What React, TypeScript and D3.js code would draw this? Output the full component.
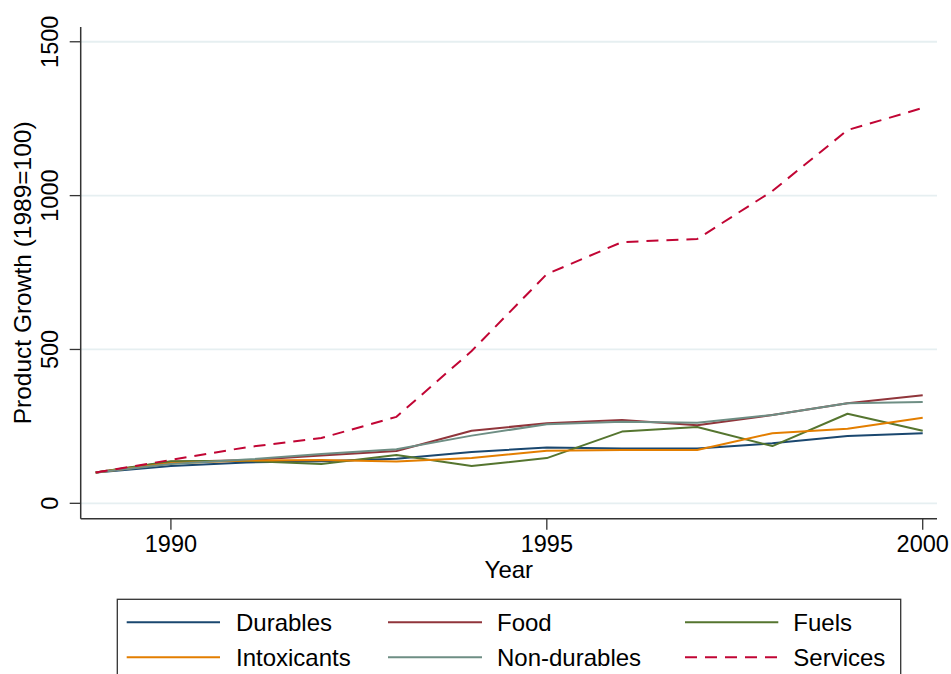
import React from "react";
import * as d3 from "d3";

const years = [1989, 1990, 1991, 1992, 1993, 1994, 1995, 1996, 1997, 1998, 1999, 2000];
const durables = [100, 121, 133, 137, 145, 167, 181, 178, 178, 195, 219, 228];
const food = [100, 135, 140, 155, 170, 236, 260, 271, 254, 287, 325, 351];
const fuels = [100, 137, 138, 128, 157, 121, 147, 233, 248, 186, 291, 236];
const intoxicants = [100, 130, 139, 141, 136, 147, 171, 173, 173, 228, 242, 278];
const nondurables = [100, 128, 142, 160, 176, 220, 257, 265, 262, 287, 325, 329];
const services = [100, 141, 182, 212, 281, 495, 745, 849, 859, 1015, 1213, 1285];

const xTicks = [1990, 1995, 2000];
const yTicks = [0, 500, 1000, 1500];

const seriesNames = ["Durables", "Food", "Fuels", "Intoxicants", "Non-durables", "Services"];
const seriesValues = [durables, food, fuels, intoxicants, nondurables, services];
const seriesColors = ["#1a476f", "#90353b", "#55752f", "#e37e00", "#6e8e84", "#c10534"];
const seriesDash = [null, null, null, null, null, "12,8"];

const FONT = "'Liberation Sans', Arial, Helvetica, sans-serif";

export default function App() {
  const left = 80.7, right = 937, top = 27, bottom = 518.7;
  const x = d3.scaleLinear().domain([1988.8, 2000.19]).range([left, right]);
  const y = d3.scaleLinear().domain([-50, 1548]).range([bottom, top]);
  const line = d3
    .line<number>()
    .x((_, i) => x(years[i]))
    .y((d) => y(d));

  const legendCols = [
    { k1: 126.7, k2: 220, t: 236 },
    { k1: 388, k2: 482, t: 497 },
    { k1: 685, k2: 778.3, t: 793.3 },
  ];
  const legendRows = [622.3, 657.3];

  return (
    <svg
      width={951}
      height={674}
      style={{ position: "absolute", left: 0, top: 0, background: "#fff" }}
      fontFamily={FONT}
    >
      <rect x={0} y={0} width={951} height={674} fill="#fff" />
      {yTicks.map((t) => (
        <line key={"g" + t} x1={left} x2={right} y1={y(t)} y2={y(t)} stroke="#e6eff1" strokeWidth={1.8} />
      ))}
      {seriesValues.map((vals, i) => (
        <path
          key={seriesNames[i]}
          d={line(vals) || ""}
          fill="none"
          stroke={seriesColors[i]}
          strokeWidth={2}
          strokeDasharray={seriesDash[i] || undefined}
          strokeLinejoin="round"
        />
      ))}
      {/* axes */}
      <line x1={left} x2={left} y1={top} y2={bottom} stroke="#333" strokeWidth={1.5} />
      <line x1={left} x2={right} y1={bottom} y2={bottom} stroke="#333" strokeWidth={1.5} />
      {yTicks.map((t) => (
        <g key={"yt" + t}>
          <line x1={left - 11} x2={left} y1={y(t)} y2={y(t)} stroke="#333" strokeWidth={1.3} />
          <text
            transform={`translate(58,${y(t)}) rotate(-90)`}
            textAnchor="middle"
            fontSize={23.5}
            fill="#000"
          >
            {t}
          </text>
        </g>
      ))}
      {xTicks.map((t) => (
        <g key={"xt" + t}>
          <line x1={x(t)} x2={x(t)} y1={bottom} y2={bottom + 11} stroke="#333" strokeWidth={1.3} />
          <text x={x(t)} y={551.7} textAnchor="middle" fontSize={23.5} fill="#000">
            {t}
          </text>
        </g>
      ))}
      <text x={(left + right) / 2} y={578} textAnchor="middle" fontSize={24} fill="#000">
        Year
      </text>
      <text
        transform={`translate(31,${(top + bottom) / 2}) rotate(-90)`}
        textAnchor="middle"
        fontSize={24.5}
        fill="#000"
      >
        Product Growth (1989=100)
      </text>
      {/* legend */}
      <rect x={117.3} y={599.3} width={900.7 - 117.3} height={100} fill="#fff" stroke="#333" strokeWidth={1.3} />
      {seriesNames.map((name, i) => {
        const col = legendCols[i % 3];
        const ry = legendRows[Math.floor(i / 3)];
        return (
          <g key={"lg" + name}>
            <line
              x1={col.k1}
              x2={col.k2}
              y1={ry}
              y2={ry}
              stroke={seriesColors[i]}
              strokeWidth={2}
              strokeDasharray={seriesDash[i] || undefined}
            />
            <text x={col.t} y={ry + 8.6} fontSize={24} fill="#000">
              {name}
            </text>
          </g>
        );
      })}
    </svg>
  );
}
